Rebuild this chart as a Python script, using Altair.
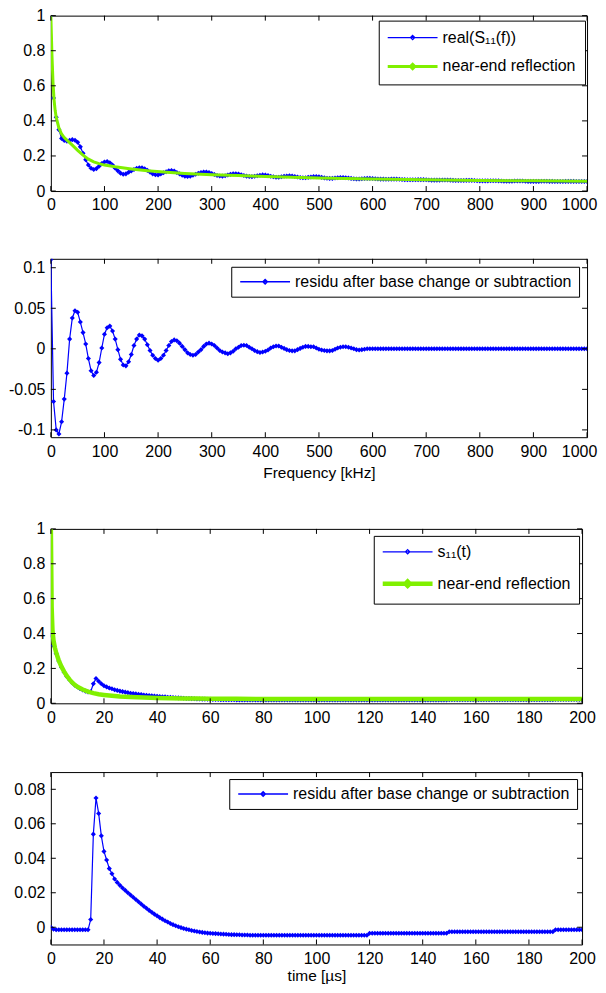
import altair as alt
import pandas as pd

# ------------------------------------------------------------------ data
FREQ_KHZ = list(range(0, 1001, 5))          # frequency grid of measured curves [kHz]
TIME_US = list(range(0, 201))               # time grid of measured curves [us]

# panel 1 : real(S11(f))
S11_REAL_F = [
    1.0, 0.53, 0.42, 0.35, 0.30, 0.288, 0.284, 0.289, 0.293, 0.29,
    0.278, 0.252, 0.215, 0.178, 0.148, 0.13, 0.123, 0.128, 0.142, 0.157,
    0.166, 0.168, 0.161, 0.148, 0.13, 0.115, 0.102, 0.096, 0.098, 0.107,
    0.115, 0.123, 0.129, 0.133, 0.133, 0.127, 0.118, 0.108, 0.098, 0.093,
    0.092, 0.097, 0.104, 0.11, 0.115, 0.117, 0.114, 0.106, 0.098, 0.09,
    0.085, 0.083, 0.085, 0.09, 0.096, 0.101, 0.105, 0.108, 0.109, 0.106,
    0.10, 0.094, 0.089, 0.086, 0.085, 0.087, 0.091, 0.095, 0.098, 0.099,
    0.097, 0.093, 0.089, 0.085, 0.083, 0.082, 0.084, 0.087, 0.09, 0.092,
    0.091, 0.088, 0.084, 0.081, 0.079, 0.079, 0.081, 0.084, 0.086, 0.087,
    0.086, 0.083, 0.08, 0.077, 0.076, 0.076, 0.078, 0.08, 0.082, 0.082,
    0.081, 0.078, 0.075, 0.073, 0.072, 0.072, 0.074, 0.076, 0.077, 0.077,
    0.076, 0.074, 0.072, 0.07, 0.069, 0.069, 0.07, 0.071, 0.072, 0.072,
    0.071, 0.070, 0.069, 0.068, 0.068, 0.067, 0.067, 0.068, 0.068, 0.068,
    0.067, 0.066, 0.065, 0.064, 0.064, 0.064, 0.064, 0.065, 0.065, 0.065,
    0.064, 0.063, 0.062, 0.062, 0.062, 0.062, 0.063, 0.063, 0.063, 0.062,
    0.061, 0.060, 0.060, 0.060, 0.060, 0.061, 0.061, 0.061, 0.060, 0.059,
    0.058, 0.058, 0.058, 0.058, 0.059, 0.059, 0.059, 0.058, 0.057, 0.056,
    0.056, 0.056, 0.056, 0.057, 0.057, 0.057, 0.057, 0.056, 0.055, 0.055,
    0.055, 0.055, 0.055, 0.056, 0.056, 0.056, 0.055, 0.055, 0.054, 0.054,
    0.054, 0.054, 0.055, 0.055, 0.055, 0.055, 0.054, 0.054, 0.054, 0.054,
    0.054,
]
NEAR_END_F_KHZ = [0, 2, 4, 6, 8, 10, 15, 20, 25, 30, 40, 50, 60, 70, 80, 90, 100,
                  120, 150, 180, 210, 250, 300, 350, 400, 450, 500, 600, 700, 800, 900, 1000]
NEAR_END_F = [1.0, 0.78, 0.62, 0.52, 0.46, 0.42, 0.36, 0.325, 0.305, 0.29, 0.262, 0.232,
              0.205, 0.182, 0.166, 0.156, 0.148, 0.138, 0.126, 0.116, 0.108, 0.100, 0.093,
              0.088, 0.083, 0.079, 0.075, 0.069, 0.064, 0.060, 0.058, 0.056]

# panel 2 : residual in frequency
RESIDU_F = [
    0.11, -0.065, -0.100, -0.105, -0.090, -0.062, -0.030, 0.012, 0.038, 0.047,
    0.045, 0.033, 0.020, 0.006, -0.012, -0.027, -0.033, -0.029, -0.017, 0.001,
    0.018, 0.026, 0.028, 0.022, 0.012, -0.001, -0.013, -0.020, -0.021, -0.016,
    -0.007, 0.004, 0.012, 0.017, 0.016, 0.012, 0.005, -0.002, -0.008, -0.012,
    -0.014, -0.012, -0.008, -0.002, 0.004, 0.009, 0.011, 0.010, 0.007, 0.003,
    -0.001, -0.005, -0.007, -0.008, -0.007, -0.004, -0.001, 0.003, 0.006, 0.007,
    0.006, 0.004, 0.001, -0.002, -0.004, -0.005, -0.006, -0.005, -0.003, 0.000,
    0.002, 0.004, 0.0045, 0.004, 0.002, 0.000, -0.002, -0.0035, -0.0045, -0.004,
    -0.003, -0.0015, 0.001, 0.0025, 0.0035, 0.0035, 0.002, 0.0005, -0.001, -0.002,
    -0.0025, -0.0025, -0.001, 0.0005, 0.002, 0.003, 0.003, 0.0025, 0.0025, 0.001,
    -0.0005, -0.0015, -0.002, -0.0025, -0.0025, -0.002, -0.0005, 0.001, 0.002, 0.0025,
    0.0025, 0.002, 0.001, 0.0, -0.001, -0.0015, -0.001, -0.0005, 0.0, 0.0,
    0.0, 0.0, 0.0, 0.0, 0.0, 0.0, 0.0, 0.0, 0.0, 0.0,
    0.0, 0.0, 0.0, 0.0, 0.0, 0.0, 0.0, 0.0, 0.0, 0.0,
    0.0, 0.0, 0.0, 0.0, 0.0, 0.0, 0.0, 0.0, 0.0, 0.0,
    0.0, 0.0, 0.0, 0.0, 0.0, 0.0, 0.0, 0.0, 0.0, 0.0,
    0.0, 0.0, 0.0, 0.0, 0.0, 0.0, 0.0, 0.0, 0.0, 0.0,
    0.0, 0.0, 0.0, 0.0, 0.0, 0.0, 0.0, 0.0, 0.0, 0.0,
    0.0, 0.0, 0.0, 0.0, 0.0, 0.0, 0.0, 0.0, 0.0, 0.0,
    0.0, 0.0, 0.0, 0.0, 0.0, 0.0, 0.0, 0.0, 0.0, 0.0,
    0.0,
]

# panel 3 : s11(t)
S11_T = [
    0.39, 0.33, 0.285, 0.243, 0.207, 0.178, 0.154, 0.135, 0.118, 0.104,
    0.093, 0.084, 0.076, 0.07, 0.065, 0.066, 0.112, 0.142, 0.126, 0.112,
    0.101, 0.094, 0.088, 0.083, 0.078, 0.074, 0.07, 0.067, 0.064, 0.061,
    0.058, 0.056, 0.054, 0.052, 0.05, 0.048, 0.046, 0.045, 0.043, 0.042,
    0.04, 0.039, 0.038, 0.037, 0.035, 0.034, 0.033, 0.032, 0.031, 0.03,
    0.029, 0.028, 0.028, 0.027, 0.026, 0.025, 0.025, 0.024, 0.024, 0.023,
    0.023, 0.022, 0.022, 0.022, 0.021, 0.021, 0.021, 0.021, 0.020, 0.020,
    0.019, 0.019, 0.019, 0.019, 0.019, 0.019, 0.019, 0.019, 0.019, 0.019,
    0.019, 0.019, 0.019, 0.019, 0.019, 0.019, 0.019, 0.019, 0.019, 0.019,
    0.019, 0.019, 0.019, 0.019, 0.019, 0.019, 0.019, 0.019, 0.019, 0.019,
    0.019, 0.019, 0.019, 0.019, 0.019, 0.019, 0.019, 0.019, 0.019, 0.019,
    0.019, 0.019, 0.019, 0.019, 0.019, 0.019, 0.019, 0.019, 0.019, 0.019,
    0.019, 0.019, 0.019, 0.019, 0.019, 0.019, 0.019, 0.019, 0.019, 0.019,
    0.019, 0.019, 0.019, 0.019, 0.019, 0.019, 0.019, 0.019, 0.019, 0.019,
    0.019, 0.019, 0.019, 0.019, 0.019, 0.019, 0.019, 0.019, 0.019, 0.019,
    0.020, 0.020, 0.020, 0.020, 0.020, 0.020, 0.020, 0.020, 0.020, 0.020,
    0.020, 0.020, 0.020, 0.020, 0.020, 0.020, 0.020, 0.020, 0.020, 0.020,
    0.020, 0.020, 0.020, 0.020, 0.020, 0.020, 0.020, 0.020, 0.020, 0.020,
    0.020, 0.020, 0.020, 0.020, 0.020, 0.020, 0.020, 0.020, 0.020, 0.020,
    0.022, 0.022, 0.022, 0.022, 0.022, 0.022, 0.022, 0.022, 0.022, 0.022,
    0.022,
]
NEAR_END_T_US = [0, 0.3, 0.6, 1, 1.5, 2, 3, 4, 5, 6, 7, 8, 9, 10, 12, 14, 16, 18, 20,
                 23, 26, 30, 35, 40, 45, 50, 55, 60, 70, 80, 90, 100, 120, 140, 160, 180, 200]
NEAR_END_T = [1.0, 0.55, 0.42, 0.36, 0.32, 0.29, 0.245, 0.21, 0.182, 0.157, 0.137, 0.12,
              0.106, 0.095, 0.079, 0.067, 0.058, 0.052, 0.048, 0.043, 0.039, 0.036, 0.033,
              0.031, 0.029, 0.028, 0.027, 0.026, 0.026, 0.025, 0.025, 0.025, 0.025, 0.024,
              0.024, 0.024, 0.024]

# panel 4 : residual in time
RESIDU_T = [
    0.0, -0.0012, -0.0015, -0.0015, -0.0015, -0.0015, -0.0015, -0.0015, -0.0015, -0.0015,
    -0.0015, -0.0015, -0.0015, -0.0015, -0.0015, 0.0045, 0.054, 0.075, 0.066, 0.053,
    0.044, 0.039, 0.034, 0.031, 0.028, 0.026, 0.0243, 0.0228, 0.0214, 0.020,
    0.0187, 0.0174, 0.0161, 0.0148, 0.0135, 0.0122, 0.011, 0.0098, 0.0087, 0.0076,
    0.0066, 0.0056, 0.0047, 0.0038, 0.003, 0.0022, 0.0015, 0.0009, 0.0003, -0.0002,
    -0.0007, -0.0011, -0.0015, -0.0019, -0.0022, -0.0025, -0.0028, -0.003, -0.0032, -0.0034,
    -0.0035, -0.0036, -0.0037, -0.0038, -0.0039, -0.004, -0.0041, -0.0042, -0.0043, -0.0043,
    -0.0044, -0.0044, -0.0045, -0.0045, -0.0045, -0.0046, -0.0046, -0.0046, -0.0046, -0.0046,
    -0.0046, -0.0046, -0.0046, -0.0046, -0.0046, -0.0046, -0.0046, -0.0046, -0.0046, -0.0046,
    -0.0046, -0.0046, -0.0046, -0.0046, -0.0046, -0.0046, -0.0046, -0.0046, -0.0046, -0.0046,
    -0.0046, -0.0046, -0.0046, -0.0046, -0.0046, -0.0046, -0.0046, -0.0046, -0.0046, -0.0046,
    -0.0046, -0.0046, -0.0046, -0.0046, -0.0046, -0.0046, -0.0046, -0.0046, -0.0046, -0.0046,
    -0.0035, -0.0035, -0.0035, -0.0035, -0.0035, -0.0035, -0.0035, -0.0035, -0.0035, -0.0035,
    -0.0035, -0.0035, -0.0035, -0.0035, -0.0035, -0.0035, -0.0035, -0.0035, -0.0035, -0.0035,
    -0.0035, -0.0035, -0.0035, -0.0035, -0.0035, -0.0035, -0.0035, -0.0035, -0.0035, -0.0035,
    -0.0026, -0.0026, -0.0026, -0.0026, -0.0026, -0.0026, -0.0026, -0.0026, -0.0026, -0.0026,
    -0.0026, -0.0026, -0.0026, -0.0026, -0.0026, -0.0026, -0.0026, -0.0026, -0.0026, -0.0026,
    -0.0026, -0.0026, -0.0026, -0.0026, -0.0026, -0.0026, -0.0026, -0.0026, -0.0026, -0.0026,
    -0.0026, -0.0026, -0.0026, -0.0026, -0.0026, -0.0026, -0.0026, -0.0026, -0.0026, -0.0026,
    -0.0015, -0.0015, -0.0015, -0.0015, -0.0015, -0.0015, -0.0015, -0.0015, -0.0015, -0.0015,
    -0.0015,
]

# axes / labels
FREQ_TICKS = [0, 100, 200, 300, 400, 500, 600, 700, 800, 900, 1000]
TIME_TICKS = [0, 20, 40, 60, 80, 100, 120, 140, 160, 180, 200]
Y_UNIT_TICKS = [0, 0.2, 0.4, 0.6, 0.8, 1]
Y_RES_F_TICKS = [-0.1, -0.05, 0, 0.05, 0.1]
Y_RES_T_TICKS = [0, 0.02, 0.04, 0.06, 0.08]
NAMES_P1 = ["real(S\u2081\u2081(f))", "near-end reflection"]
NAMES_P2 = ["residu after base change or subtraction"]
NAMES_P3 = ["s\u2081\u2081(t)", "near-end reflection"]
NAMES_P4 = ["residu after base change or subtraction"]
XTITLE_F = "Frequency [kHz]"
XTITLE_T = "time [\u00b5s]"

# ------------------------------------------------------------------ style
BLUE = "#0000ff"
GREEN = "#80f000"
FONT = "Liberation Sans, Arial, sans-serif"
TICK_FS, TITLE_FS, LEG_FS = 16, 15.5, 16
LEG_SIZE = LEG_FS                  # legend row size used by Vega: max(sqrt(size)+sw, fontSize)
# legend sample: 50 px line with a small marker in the middle (scaled by 4 px/unit)
LEGEND_PATH = "M-6.25,0H6.25M0,-0.55L0.55,0L0,0.55L-0.55,0Z"


def axis_style(title_pad):
    return dict(labelFont=FONT, labelFontSize=TICK_FS, labelColor="black", ticks=False,
                domain=False, grid=False, labelPadding=6, labelFlush=False,
                labelOverlap=False, titleFont=FONT, titleFontSize=TITLE_FS,
                titleFontWeight="normal", titleColor="black", titlePadding=title_pad)


def make_panel(W, H, xdom, xticks, ydom, yticks, yfmt, blue, green, names, leg,
               xtitle=None, title_pad=4, green_width=3.0):
    lx, ly, pad = leg
    sym_off = 34 - pad - LEG_SIZE / 2      # line sample starts 9 px inside the box
    lab_off = 30 - LEG_SIZE / 2            # label starts 64 px inside the box
    # keep the last (right-edge) tick label inside the page
    last_shift = alt.condition(f"datum.value === {xticks[-1]}",
                               alt.value(-8 if xticks[-1] >= 1000 else 0), alt.value(0))
    xaxis = alt.Axis(values=xticks, format="d", title=xtitle, labelOffset=last_shift,
                     **axis_style(title_pad))
    yaxis = alt.Axis(values=yticks, title=None, minExtent=42, maxExtent=42,
                     labelExpr=f"replace(format(datum.value, '{yfmt}'), '\u2212', '-')",
                     **axis_style(title_pad))
    X = alt.X("x:Q", scale=alt.Scale(domain=xdom, nice=False, zero=False), axis=xaxis)
    Y = alt.Y("y:Q", scale=alt.Scale(domain=ydom, nice=False, zero=False), axis=yaxis)

    colors = [BLUE] + ([GREEN] if green else [])
    legend = alt.Legend(
        title=None, orient="none", legendX=lx, legendY=ly, direction="vertical",
        padding=pad, rowPadding=28 - LEG_SIZE, symbolSize=64, symbolType=LEGEND_PATH,
        symbolOffset=sym_off, labelOffset=lab_off, labelFont=FONT, labelFontSize=LEG_FS,
        labelColor="black", labelLimit=600, strokeColor="black", fillColor="white",
        symbolOpacity=1,
    )
    color = alt.Color("s:N", scale=alt.Scale(domain=names, range=colors), legend=legend)
    enc_extra = {}
    if green:
        enc_extra["strokeWidth"] = alt.StrokeWidth(
            "s:N", scale=alt.Scale(domain=names, range=[1.2, green_width], padding=0),
            legend=legend)

    bdf = pd.DataFrame({"x": blue[0], "y": blue[1], "s": names[0]})
    layers = [
        alt.Chart(bdf).mark_line(strokeWidth=1.2, clip=True)
        .encode(x=X, y=Y, color=color, **enc_extra),
        alt.Chart(bdf).mark_point(shape="diamond", filled=True, size=26, opacity=1,
                                  clip=True, color=BLUE).encode(x=X, y=Y),
    ]
    if green:
        gdf = pd.DataFrame({"x": green[0], "y": green[1], "s": names[1]})
        layers.append(alt.Chart(gdf).mark_line(clip=True)
                      .encode(x=X, y=Y, color=color, **enc_extra))
    tx = pd.DataFrame({"x": xticks})
    ty = pd.DataFrame({"y": yticks})
    tk = dict(color="black", strokeWidth=1)
    layers += [
        alt.Chart(tx).mark_rule(**tk).encode(x=X, y=alt.value(0), y2=alt.value(5)),
        alt.Chart(tx).mark_rule(**tk).encode(x=X, y=alt.value(H), y2=alt.value(H - 5)),
        alt.Chart(ty).mark_rule(**tk).encode(y=Y, x=alt.value(0), x2=alt.value(5)),
        alt.Chart(ty).mark_rule(**tk).encode(y=Y, x=alt.value(W), x2=alt.value(W - 5)),
    ]
    return alt.layer(*layers).properties(width=W, height=H)


p1 = make_panel(538, 176, [0, 1000], FREQ_TICKS, [0, 1], Y_UNIT_TICKS, ".1~f",
                (FREQ_KHZ, S11_REAL_F), (NEAR_END_F_KHZ, NEAR_END_F), NAMES_P1,
                (329, 5, 9))
p2 = make_panel(538, 179, [0, 1000], FREQ_TICKS, [-0.109, 0.111], Y_RES_F_TICKS, ".2~f",
                (FREQ_KHZ, RESIDU_F), None, NAMES_P2,
                (181, 8, 7), xtitle=XTITLE_F, title_pad=6)
p3 = make_panel(533, 175, [0, 200], TIME_TICKS, [0, 1], Y_UNIT_TICKS, ".1~f",
                (TIME_US, S11_T), (NEAR_END_T_US, NEAR_END_T), NAMES_P3,
                (324, 7, 8), green_width=4.5)
p4 = make_panel(533, 173, [0, 200], TIME_TICKS, [-0.01, 0.09], Y_RES_T_TICKS, ".2~f",
                (TIME_US, RESIDU_T), None, NAMES_P4,
                (179, 7, 7), xtitle=XTITLE_T, title_pad=2)

RES = dict(color="independent", strokeWidth="independent")
upper = alt.vconcat(p1, p2, spacing=44).resolve_scale(**RES).resolve_legend(**RES)
lower = alt.vconcat(p3, p4, spacing=45).resolve_scale(**RES).resolve_legend(**RES)
chart = (alt.vconcat(upper, lower, spacing=39)
         .resolve_scale(**RES).resolve_legend(**RES)
         .properties(padding={"top": -3, "left": 0, "right": 0, "bottom": 0},
                     background="white")
         .configure_view(stroke="black", strokeWidth=1))

chart.save("out.html", embed_options={"renderer": "svg", "actions": False})
